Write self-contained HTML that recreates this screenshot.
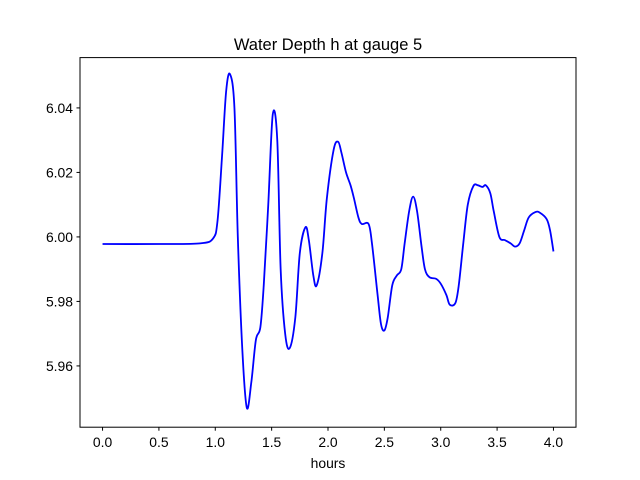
<!DOCTYPE html>
<html><head><meta charset="utf-8"><style>
body{margin:0;background:#fff;}
svg{display:block;font-family:"Liberation Sans","DejaVu Sans",sans-serif;}
</style></head><body>
<svg id="chart" width="640" height="480" viewBox="0 0 640 480" xmlns="http://www.w3.org/2000/svg">
<rect x="0" y="0" width="640" height="480" fill="#fff"/>
<text x="328" y="50" text-anchor="middle" font-size="16.5">Water Depth h at gauge 5</text>
<g id="xt"></g>
<g id="yt"></g>
<path id="line" fill="none" stroke="#0000ff" stroke-width="1.8"/>
<rect x="80" y="57.6" width="496" height="369.6" fill="none" stroke="#000" stroke-width="1"/>
<text x="328" y="468" text-anchor="middle" font-size="13.9">hours</text>
</svg>
<script>
const times=[0,0.5,0.865,0.98,1.02,1.06,1.096,1.13,1.17,1.2,1.24,1.28,1.32,1.36,1.4,1.43,1.47,1.51,1.55,1.58,1.62,1.66,1.71,1.75,1.8,1.83,1.87,1.9,1.95,1.99,2.05,2.09,2.12,2.16,2.2,2.23,2.27,2.3,2.36,2.39,2.44,2.47,2.5,2.53,2.57,2.61,2.65,2.68,2.72,2.755,2.79,2.83,2.86,2.9,2.96,3.0,3.05,3.08,3.13,3.16,3.2,3.24,3.29,3.33,3.37,3.4,3.44,3.47,3.52,3.57,3.62,3.66,3.7,3.74,3.78,3.84,3.88,3.94,3.97,4.0];
const depths=[5.9978,5.9978,5.998,5.9995,6.005,6.025,6.045,6.0505,6.04,6.0,5.965,5.947,5.955,5.968,5.972,5.985,6.01,6.038,6.03,5.99,5.97,5.9655,5.975,5.995,6.003,5.999,5.988,5.985,5.995,6.012,6.027,6.0295,6.026,6.02,6.016,6.012,6.006,6.004,6.004,5.998,5.982,5.973,5.971,5.975,5.985,5.988,5.99,5.998,6.008,6.0125,6.008,5.997,5.99,5.9875,5.987,5.9855,5.982,5.979,5.9795,5.985,5.998,6.01,6.0158,6.016,6.0155,6.016,6.0135,6.008,6.0,5.999,5.998,5.997,5.998,6.002,6.006,6.0077,6.0075,6.0055,6.002,5.9955];
const xTicks=[0,0.5,1,1.5,2,2.5,3,3.5,4];
const xTickLabels=["0.0","0.5","1.0","1.5","2.0","2.5","3.0","3.5","4.0"];
const yTicks=[5.96,5.98,6.0,6.02,6.04];
const yTickLabels=["5.96","5.98","6.00","6.02","6.04"];
const L=80,R=576,T=57.6,B=427.2, xMin=-0.2,xMax=4.2,yMin=5.941,yMax=6.0556;
const sx=v=>L+(v-xMin)/(xMax-xMin)*(R-L);
const sy=v=>B-(v-yMin)/(yMax-yMin)*(B-T);
const NS="http://www.w3.org/2000/svg";
const xt=document.getElementById('xt'),yt=document.getElementById('yt');
xTicks.forEach((t,i)=>{
 const l=document.createElementNS(NS,'line');
 
 
 l.setAttribute('x1',sx(t));l.setAttribute('x2',sx(t));l.setAttribute('y1',B);l.setAttribute('y2',B+3.5);l.setAttribute('stroke','#000');
 xt.appendChild(l);
 const s=document.createElementNS(NS,'text');
 
 
 s.setAttribute('x',sx(t));s.setAttribute('y',B+20);s.setAttribute('text-anchor','middle');s.setAttribute('font-size','13.9');
 s.textContent=xTickLabels[i];xt.appendChild(s);
});
yTicks.forEach((t,i)=>{
 const l=document.createElementNS(NS,'line');
 
 
 l.setAttribute('x1',L-3.5);l.setAttribute('x2',L);l.setAttribute('y1',sy(t));l.setAttribute('y2',sy(t));l.setAttribute('stroke','#000');
 yt.appendChild(l);
 const s=document.createElementNS(NS,'text');
 
 
 s.setAttribute('x',L-7);s.setAttribute('y',sy(t)+5);s.setAttribute('text-anchor','end');s.setAttribute('font-size','13.9');
 s.textContent=yTickLabels[i];yt.appendChild(s);
});
const P=times.map((t,i)=>[sx(t),sy(depths[i])]);
let d=`M${P[0][0]},${P[0][1]}`;
for(let i=0;i<P.length-1;i++){
 const p0=P[Math.max(0,i-1)],p1=P[i],p2=P[i+1],p3=P[Math.min(P.length-1,i+2)];
 const c1=[p1[0]+(p2[0]-p0[0])/6,p1[1]+(p2[1]-p0[1])/6];
 const c2=[p2[0]-(p3[0]-p1[0])/6,p2[1]-(p3[1]-p1[1])/6];
 d+=` C${c1[0]},${c1[1]} ${c2[0]},${c2[1]} ${p2[0]},${p2[1]}`;
}
document.getElementById('line').setAttribute('d',d);
</script>
</body></html>
